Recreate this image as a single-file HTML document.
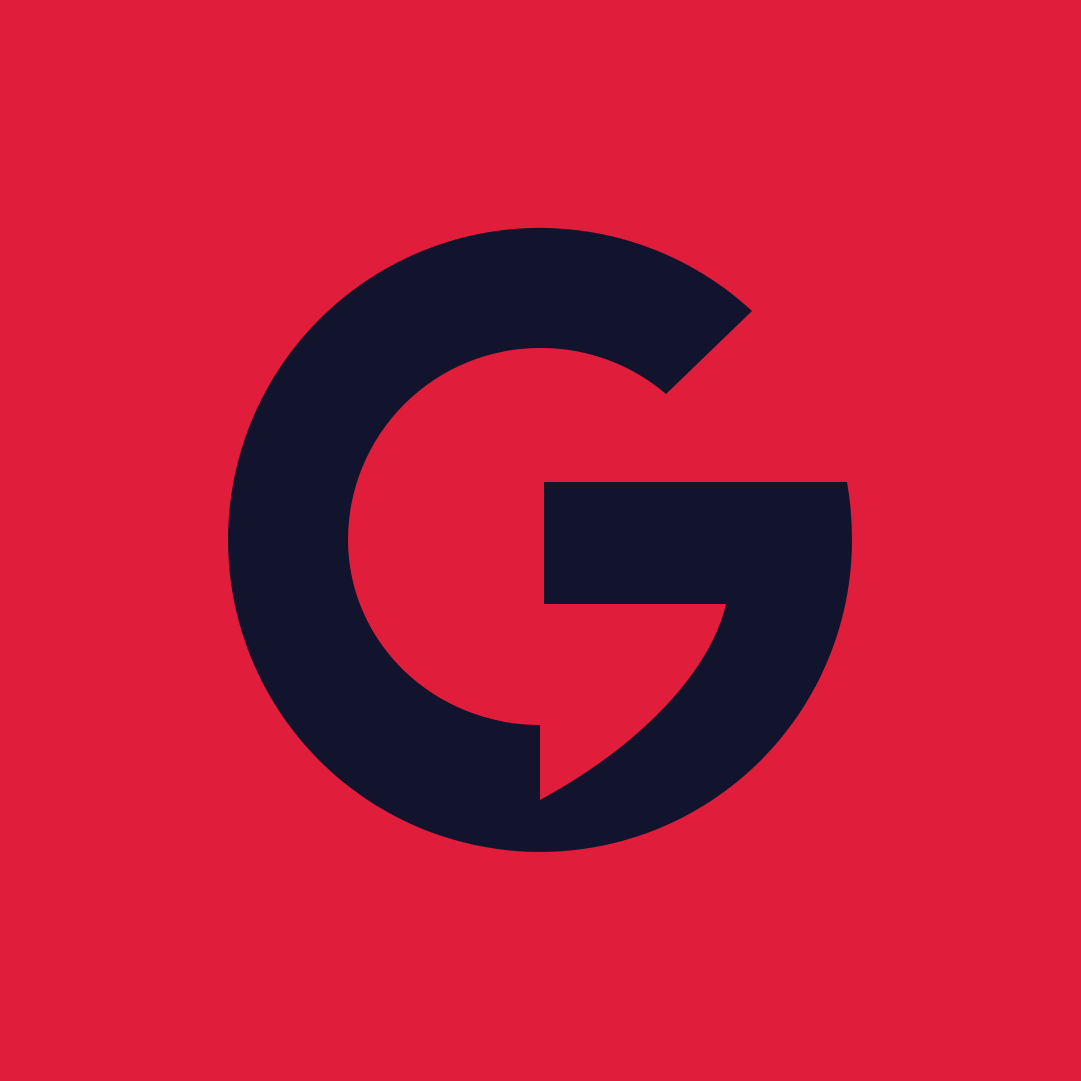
<!DOCTYPE html>
<html>
<head>
<meta charset="utf-8">
<style>
  html,body{margin:0;padding:0;width:1081px;height:1081px;overflow:hidden;background:#E01E3C;}
  svg{display:block;}
</style>
</head>
<body>
<svg width="1081" height="1081" viewBox="0 0 1081 1081" xmlns="http://www.w3.org/2000/svg">
  <rect x="0" y="0" width="1081" height="1081" fill="#E01E3C"/>
  <path fill="#12132D"
    d="M752,311
       A312,312 0 1 0 852,540
       Q852,510 847,482
       L544,482 L544,604 L726,604
       C712,665 650,740 540,800
       L540,725
       A192,185 0 0 1 348,540
       A192,192 0 0 1 540,348
       A192,192 0 0 1 666,394
       Z"/>
</svg>
</body>
</html>
